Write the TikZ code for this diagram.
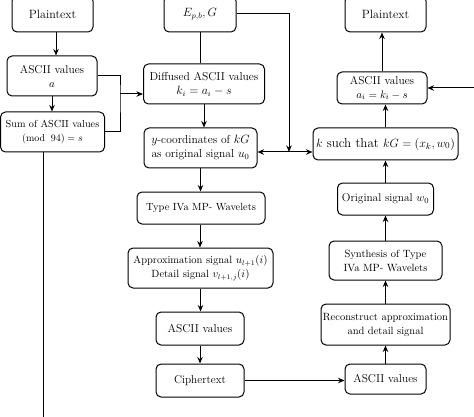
\documentclass[tikz,border=0pt]{standalone}
\usetikzlibrary{arrows.meta}
\begin{document}
\begin{tikzpicture}[x=1pt,y=-1pt,
  box/.style={draw, rounded corners=5pt, line width=1pt, align=center, inner sep=0pt},
  fs/.style={font=\fontsize{#1}{14}\selectfont},
  arr/.style={line width=1pt, -{Stealth[length=6.5pt,width=5.5pt]}},
  ln/.style={line width=1pt},
  darr/.style={line width=1pt, {Stealth[length=6.5pt,width=5.5pt]}-{Stealth[length=6.5pt,width=5.5pt]}}]
\useasboundingbox (0,0) rectangle (474,417);
\clip (0,0) rectangle (474,417);
% left column
\node[box, fs=12, minimum width=81, minimum height=36] (pt1) at (52.5,14) {Plaintext};
\node[box, fs=11.4, minimum width=90, minimum height=40] (asciiA) at (52,76) {ASCII values\\$a$};
\node[box, fs=10.2, minimum width=104, minimum height=40] (sum) at (52.5,132) {Sum of ASCII values\\$(\mathrm{mod}\;\;94)=s$};
% middle column
\node[box, fs=12, minimum width=72, minimum height=36] (E) at (200,14) {$E_{p,b},G$};
\node[box, fs=11.5, minimum width=121, minimum height=40] (diff) at (204,84) {Diffused ASCII values\\$k_i=a_i-s$};
\node[box, fs=11.5, minimum width=113, minimum height=40] (ycoord) at (200.5,148) {$y$-coordinates of $kG$\\as original signal $u_0$};
\node[box, fs=10.4, minimum width=128, minimum height=32] (type) at (201,208) {Type IVa MP- Wavelets};
\node[box, fs=10.5, minimum width=145, minimum height=40] (approx) at (200.5,268) {Approximation signal $u_{l+1}(i)$\\Detail signal $v_{l+1,j}(i)$};
\node[box, fs=11.5, minimum width=88, minimum height=33] (ascL) at (200,328.5) {ASCII values};
\node[box, fs=11.3, minimum width=88, minimum height=33] (cipher) at (200,380.5) {Ciphertext};
% right column
\node[box, fs=12, minimum width=81, minimum height=36] (pt2) at (385.5,14) {Plaintext};
\node[box, fs=11.4, minimum width=90, minimum height=32] (asciiAi) at (382,88) {ASCII values\\$a_i=k_i-s$};
\node[box, fs=13, minimum width=145, minimum height=32] (kbox) at (385.5,144) {$k$ such that $kG=(x_k,w_0)$};
\node[box, fs=11.3, minimum width=96, minimum height=32] (orig) at (385.5,199) {Original signal $w_0$};
\node[box, fs=10.5, minimum width=113, minimum height=39] (synth) at (385.5,260.5) {Synthesis of Type\\IVa MP- Wavelets};
\node[box, fs=10.5, minimum width=129, minimum height=41] (recon) at (385.5,324.5) {Reconstruct approximation\\and detail signal};
\node[box, fs=11.4, minimum width=81, minimum height=30] (ascR) at (385.5,379) {ASCII values};
% junctions
\coordinate (j1) at (120,94);
\coordinate (j2) at (289,152);
\coordinate (r1) at (476,88);
\coordinate (b1) at (43,420);
% connectors left
\draw[arr] ([xshift=3.5pt]pt1.south) -- ([xshift=4pt]asciiA.north);
\draw[arr] (asciiA.south) -- (asciiA.south |- sum.north);
\draw[ln] (asciiA.east) -| (j1) |- (sum.east);
\draw[arr] (j1) -- (j1 -| diff.west);
\draw[ln] (b1 |- sum.south) -- (b1);
% connectors middle
\draw[ln] (E.south) -- (E.south |- diff.north);
\draw[arr] (diff.south) -- (diff.south |- ycoord.north);
\draw[arr] (ycoord.south) -- (ycoord.south |- type.north);
\draw[arr] ([xshift=-1pt]type.south) -- ([xshift=-1pt]type.south |- approx.north);
\draw[arr] (approx.south) -- (approx.south |- ascL.north);
\draw[arr] (ascL.south) -- (cipher.north);
\draw[arr] (E.east) -| (j2);
\draw[darr] (ycoord.east |- j2) -- (kbox.west |- j2);
\draw[arr] (cipher.east) -- (cipher.east -| ascR.west);
% connectors right
\draw[arr] (ascR.north) -- (recon.south);
\draw[arr] (recon.north) -- (synth.south);
\draw[arr] (synth.north) -- (orig.south);
\draw[arr] (orig.north) -- (kbox.south);
\draw[arr] (kbox.north) -- (kbox.north |- asciiAi.south);
\draw[arr] (asciiAi.north) -- (asciiAi.north |- pt2.south);
\draw[arr] (r1) -- (asciiAi.east);
\end{tikzpicture}
\end{document}
